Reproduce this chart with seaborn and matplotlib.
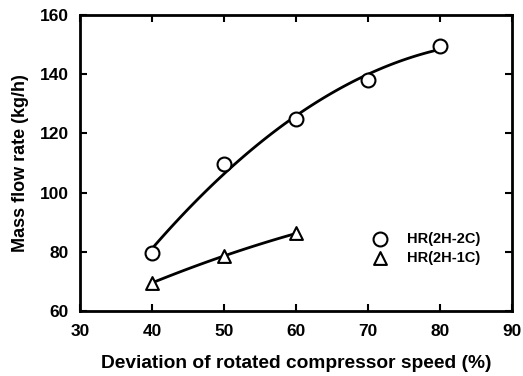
import matplotlib
matplotlib.use("Agg")
import matplotlib.pyplot as plt
import seaborn as sns
import pandas as pd

speed_2c = [40, 50, 60, 70, 80]
flow_2c = [79.5, 109.8, 124.9, 137.9, 149.6]
speed_1c = [40, 50, 60]
flow_1c = [69.5, 78.6, 86.2]
label_2c = "HR(2H-2C)"
label_1c = "HR(2H-1C)"

sns.set_theme(style="ticks")
plt.rcParams['font.family'] = ['Liberation Sans', 'DejaVu Sans']
plt.rcParams['font.weight'] = 'bold'
plt.rcParams['text.color'] = 'black'
plt.rcParams['axes.labelcolor'] = 'black'
plt.rcParams['xtick.color'] = 'black'
plt.rcParams['ytick.color'] = 'black'

df2 = pd.DataFrame({"x": speed_2c, "y": flow_2c})
df1 = pd.DataFrame({"x": speed_1c, "y": flow_1c})

fig = plt.figure(figsize=(5.23, 3.76), dpi=100)
ax = fig.add_axes([80/523, 1 - 311/376, (512-80)/523, (311-15)/376])

sns.regplot(data=df2, x="x", y="y", order=2, ci=None, scatter=False, truncate=True,
            line_kws=dict(color="black", lw=2.0), ax=ax)
sns.regplot(data=df1, x="x", y="y", order=2, ci=None, scatter=False, truncate=True,
            line_kws=dict(color="black", lw=2.0), ax=ax)
sns.scatterplot(data=df2, x="x", y="y", marker="o", s=100, facecolor="white",
                edgecolor="black", linewidth=1.5, ax=ax, label=label_2c, zorder=3)
sns.scatterplot(data=df1, x="x", y="y", marker="^", s=85, facecolor="white",
                edgecolor="black", linewidth=1.5, ax=ax, label=label_1c, zorder=3)

ax.set_xlim(30, 90)
ax.set_ylim(60, 160)
ax.set_xticks([30, 40, 50, 60, 70, 80, 90])
ax.set_yticks([60, 80, 100, 120, 140, 160])
ax.tick_params(direction="in", top=True, right=True, length=5, width=1.5,
               labelsize=12.5, colors="black")
ax.tick_params(axis="x", pad=9)
ax.tick_params(axis="y", pad=8)
for lab in ax.get_xticklabels() + ax.get_yticklabels():
    lab.set_fontweight("bold")
for s in ax.spines.values():
    s.set_linewidth(2.0)
    s.set_color("black")
ax.set_xlabel("Deviation of rotated compressor speed (%)", fontsize=13.8, fontweight="bold", labelpad=12)
ax.set_ylabel("Mass flow rate (kg/h)", fontsize=13, fontweight="bold", labelpad=8)

leg = ax.legend(loc="upper left", bbox_to_anchor=(0.648, 0.288), frameon=False,
                prop=dict(size=10.5, weight="bold"), handletextpad=0.8,
                labelspacing=0.35, borderaxespad=0)

fig.savefig("out.png", dpi=100)
